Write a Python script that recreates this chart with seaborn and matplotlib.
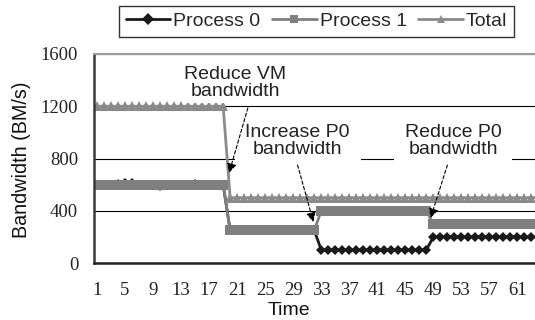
import numpy as np
import pandas as pd
import matplotlib
matplotlib.use("Agg")
import matplotlib.pyplot as plt
import seaborn as sns

# values (BM/s per time step)
time = list(range(1, 65))
process0 = ([600, 600, 600, 605, 615, 610, 600, 600, 595, 590, 600, 600, 600, 600, 605, 600, 600, 600, 600]
            + [250] * 13 + [100] * 16 + [200] * 16)
process1 = ([600] * 19 + [250] * 13 + [400] * 16 + [300] * 16)
total = ([1200] * 19 + [500] * 45)
series_names = ["Process 0", "Process 1", "Total"]
y_ticks = [0, 400, 800, 1200, 1600]
x_tick_labels = list(range(1, 62, 4))

df = pd.DataFrame({
    "Time": time * 3,
    "Bandwidth": process0 + process1 + total,
    "Series": ["Process 0"] * 64 + ["Process 1"] * 64 + ["Total"] * 64,
})

sns.set_style("white")
plt.rcParams["font.family"] = ["Liberation Sans", "DejaVu Sans"]

fig = plt.figure(figsize=(5.35, 3.2), dpi=100)
ax = fig.add_axes([93.5 / 535, 57 / 320, 441.5 / 535, 209 / 320])

palette = {"Process 0": "#1a1a1a", "Process 1": "#7f7f7f", "Total": "#8a8a8a"}
markers = {"Process 0": "D", "Process 1": "s", "Total": "^"}
sns.lineplot(data=df, x="Time", y="Bandwidth", hue="Series", style="Series",
             hue_order=series_names, style_order=series_names,
             palette=palette, markers=markers, dashes=False,
             markersize=6, markeredgewidth=0, linewidth=2, ax=ax, legend=True)
for line, ms in zip(ax.lines, [5, 6.5, 7.5]):
    line.set_markersize(ms)

ax.set_xlim(0.5, 63.05)
ax.set_ylim(0, 1600)
ax.set_yticks(y_ticks)
ax.set_xticks(x_tick_labels)
ax.set_xticks(np.arange(0.5, 64, 1), minor=True)
ax.tick_params(axis="x", which="major", length=0, pad=14)
ax.tick_params(axis="x", which="minor", direction="in", length=3.8, width=1, color="#222222")
ax.tick_params(axis="y", length=0, pad=11)
for lab in ax.get_xticklabels() + ax.get_yticklabels():
    lab.set_fontfamily("Liberation Serif")
    lab.set_fontsize(13.5)
    lab.set_color("#222222")

ax.yaxis.grid(True, color="black", linewidth=0.8)
ax.set_axisbelow(True)
ax.spines["left"].set_color("#3a3a3a")
ax.spines["left"].set_linewidth(1.8)
ax.spines["bottom"].set_color("#222222")
ax.spines["bottom"].set_linewidth(1.8)
ax.spines["top"].set_color("#9a9a9a")
ax.spines["top"].set_linewidth(1.5)
ax.spines["right"].set_visible(False)

ax.set_xlabel("Time", fontsize=14, va="center", color="#111111")
ax.xaxis.set_label_coords(0.443, -0.228)
ax.set_ylabel("Bandwidth (BM/s)", fontsize=14.2, va="center", color="#111111")
ax.yaxis.set_label_coords(-0.163, 0.495)

# annotations: text box with white background, dashed arrow
notes = [
    ("Reduce VM\nbandwidth", (20.69, 1378), (22.53, 1187), (19.84, 689), 0.12),
    ("Increase P0\nbandwidth", (29.62, 934), (29.62, 750), (31.88, 314), 0.55),
    ("Reduce P0\nbandwidth", (51.86, 934), (51.0, 750), (48.6, 344), 0.55),
]
for txt, pos, tail, tip, pad in notes:
    ax.text(pos[0], pos[1], txt, ha="center", va="center", fontsize=14,
            color="#222222", linespacing=1.05, zorder=4,
            bbox=dict(boxstyle=f"square,pad={pad}", fc="white", ec="none"))
    ax.annotate("", xy=tip, xytext=tail, zorder=5,
                arrowprops=dict(arrowstyle="-|>", linestyle=(0, (3, 2)), color="black",
                                lw=0.8, mutation_scale=14, shrinkA=0, shrinkB=0))

handles, labels = ax.get_legend_handles_labels()
ax.legend(handles, labels, ncol=3, loc="center", bbox_to_anchor=(316.5 / 535, 1 - 21.5 / 320),
          bbox_transform=fig.transFigure, fontsize=14, frameon=True, fancybox=False,
          edgecolor="#333333", framealpha=1, handlelength=2.3, handletextpad=0.15,
          columnspacing=0.6, borderpad=0.35, borderaxespad=0)
ax.get_legend().get_frame().set_linewidth(1)

fig.savefig("out.png", dpi=100)
